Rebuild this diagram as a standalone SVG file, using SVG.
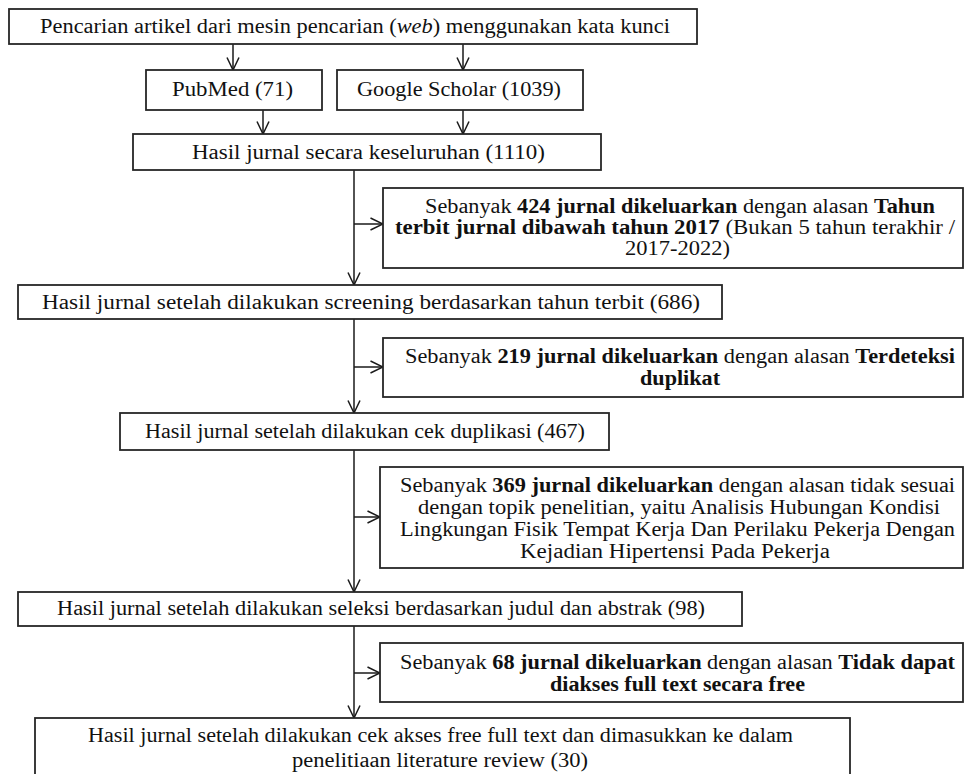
<svg xmlns="http://www.w3.org/2000/svg" width="966" height="774" viewBox="0 0 966 774">
<style>
.box{fill:#fff;stroke:#262626;stroke-width:1.8}
.t{font-family:"Liberation Serif","Times New Roman",serif;font-size:20px;fill:#111}
.b{font-weight:bold}
.i{font-style:italic}
.c{fill:none;stroke:#1a1a1a;stroke-width:1.5}
</style>
<defs>
<marker id="arr" viewBox="0 0 14 14" refX="13.5" refY="7" markerWidth="14" markerHeight="14" markerUnits="userSpaceOnUse" orient="auto">
<path d="M1,1 L13.5,7 L1,13" fill="none" stroke="#1a1a1a" stroke-width="1.5"/>
</marker>
</defs>
<rect width="966" height="774" fill="#fff"/>
<g id="connectors">
<line class="c" x1="233" y1="44" x2="233" y2="70" marker-end="url(#arr)"/>
<line class="c" x1="463" y1="44" x2="463" y2="70" marker-end="url(#arr)"/>
<line class="c" x1="263" y1="110" x2="263" y2="134" marker-end="url(#arr)"/>
<line class="c" x1="463" y1="110" x2="463" y2="134" marker-end="url(#arr)"/>
<line class="c" x1="354" y1="170" x2="354" y2="285" marker-end="url(#arr)"/>
<line class="c" x1="354" y1="224" x2="383" y2="224" marker-end="url(#arr)"/>
<line class="c" x1="354" y1="319" x2="354" y2="413" marker-end="url(#arr)"/>
<line class="c" x1="354" y1="367" x2="383" y2="367" marker-end="url(#arr)"/>
<line class="c" x1="354" y1="450" x2="354" y2="592" marker-end="url(#arr)"/>
<line class="c" x1="354" y1="517" x2="380" y2="517" marker-end="url(#arr)"/>
<line class="c" x1="354" y1="626" x2="354" y2="718" marker-end="url(#arr)"/>
<line class="c" x1="354" y1="673" x2="380" y2="673" marker-end="url(#arr)"/>
</g>
<g id="search">
<rect class="box" x="9" y="9" width="688" height="35"/>
<text class="t" x="40" y="33" textLength="630" lengthAdjust="spacingAndGlyphs">Pencarian artikel dari mesin pencarian (<tspan class="i">web</tspan>)  menggunakan kata kunci</text>
</g>
<g id="pubmed">
<rect class="box" x="146" y="70" width="176" height="40"/>
<text class="t" x="172" y="96" textLength="121" lengthAdjust="spacingAndGlyphs">PubMed (71)</text>
</g>
<g id="scholar">
<rect class="box" x="337" y="70" width="246" height="40"/>
<text class="t" x="357" y="96" textLength="204" lengthAdjust="spacingAndGlyphs">Google Scholar (1039)</text>
</g>
<g id="total">
<rect class="box" x="133" y="134" width="468" height="36"/>
<text class="t" x="192" y="159" textLength="353" lengthAdjust="spacingAndGlyphs">Hasil jurnal secara keseluruhan (1110)</text>
</g>
<g id="excl-year">
<rect class="box" x="383" y="188" width="580" height="80"/>
<text class="t" x="425" y="213" textLength="510" lengthAdjust="spacingAndGlyphs">Sebanyak <tspan class="b">424 jurnal dikeluarkan</tspan> dengan alasan <tspan class="b">Tahun</tspan></text>
<text class="t" x="395" y="234" textLength="560" lengthAdjust="spacingAndGlyphs"><tspan class="b">terbit jurnal dibawah tahun 2017</tspan> (Bukan 5 tahun terakhir /</text>
<text class="t" x="625" y="255" textLength="105" lengthAdjust="spacingAndGlyphs">2017-2022)</text>
</g>
<g id="after-year">
<rect class="box" x="18" y="285" width="704" height="34"/>
<text class="t" x="42" y="309" textLength="658" lengthAdjust="spacingAndGlyphs">Hasil jurnal setelah dilakukan screening berdasarkan tahun terbit (686)</text>
</g>
<g id="excl-dup">
<rect class="box" x="383" y="338" width="580" height="59"/>
<text class="t" x="405" y="363" textLength="550" lengthAdjust="spacingAndGlyphs">Sebanyak <tspan class="b">219 jurnal dikeluarkan</tspan> dengan alasan <tspan class="b">Terdeteksi</tspan></text>
<text class="t b" x="640" y="385" textLength="80" lengthAdjust="spacingAndGlyphs">duplikat</text>
</g>
<g id="after-dup">
<rect class="box" x="120" y="413" width="489" height="37"/>
<text class="t" x="145" y="438" textLength="440" lengthAdjust="spacingAndGlyphs">Hasil jurnal setelah dilakukan cek duplikasi (467)</text>
</g>
<g id="excl-topic">
<rect class="box" x="380" y="467" width="583" height="101"/>
<text class="t" x="400" y="492" textLength="555" lengthAdjust="spacingAndGlyphs">Sebanyak <tspan class="b">369 jurnal dikeluarkan</tspan> dengan alasan tidak sesuai</text>
<text class="t" x="418" y="514" textLength="522" lengthAdjust="spacingAndGlyphs">dengan topik penelitian, yaitu Analisis Hubungan Kondisi</text>
<text class="t" x="400" y="536" textLength="555" lengthAdjust="spacingAndGlyphs">Lingkungan Fisik Tempat Kerja Dan Perilaku Pekerja Dengan</text>
<text class="t" x="520" y="558" textLength="310" lengthAdjust="spacingAndGlyphs">Kejadian Hipertensi Pada Pekerja</text>
</g>
<g id="after-title">
<rect class="box" x="18" y="592" width="724" height="34"/>
<text class="t" x="57" y="615" textLength="648" lengthAdjust="spacingAndGlyphs">Hasil jurnal setelah dilakukan seleksi berdasarkan judul dan abstrak (98)</text>
</g>
<g id="excl-access">
<rect class="box" x="380" y="643" width="583" height="59"/>
<text class="t" x="400" y="669" textLength="555" lengthAdjust="spacingAndGlyphs">Sebanyak <tspan class="b">68 jurnal dikeluarkan</tspan> dengan alasan <tspan class="b">Tidak dapat</tspan></text>
<text class="t b" x="550" y="691" textLength="255" lengthAdjust="spacingAndGlyphs">diakses full text secara free</text>
</g>
<g id="final">
<rect class="box" x="35" y="718" width="815" height="62"/>
<text class="t" x="88" y="742" textLength="705" lengthAdjust="spacingAndGlyphs">Hasil jurnal setelah dilakukan cek akses free full text dan dimasukkan ke dalam</text>
<text class="t" x="292" y="767" textLength="296" lengthAdjust="spacingAndGlyphs">penelitiaan  literature  review (30)</text>
</g>
</svg>
